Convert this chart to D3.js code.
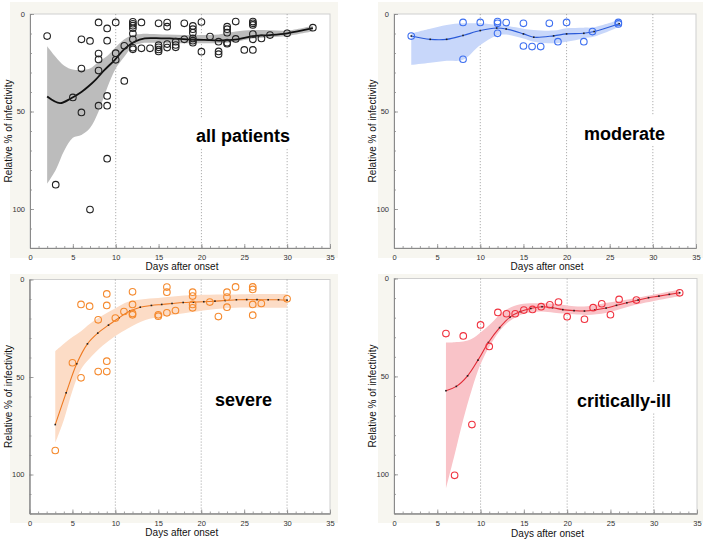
<!DOCTYPE html>
<html>
<head>
<meta charset="utf-8">
<script src="https://cdn.jsdelivr.net/npm/d3@7"></script>
<style>
  html, body { margin: 0; padding: 0; background: #ffffff; }
  svg { display: block; }
  text { font-family: "Liberation Sans", Arial, Helvetica, sans-serif; }
</style>
</head>
<body>
<svg id="chart" width="708" height="542"></svg>
<script>
// ---------- DATA ----------
const xTicks = [0, 5, 10, 15, 20, 25, 30, 35];
const yTicks = [0, 50, 100];
const gridDays = [10, 20, 30];
const panelLabels = ["all patients", "moderate", "severe", "critically-ill"];
const xTitle = "Days after onset";
const yTitle = "Relative % of infectivity";

// all patients
const allDays = [2,3,5,6,6,6,7,7,8,8,8,8,8,9,9,9,9,9,10,10,10,11,11,12,12,12,12,12,12,12,12,13,13,14,15,15,15,15,15,16,16,16,16,17,17,17,18,18,19,19,19,19,19,19,20,20,21,22,22,22,23,23,23,23,23,24,24,25,26,26,26,26,26,26,27,28,30,33];
const allVals = [11.3,87.5,42.8,13,28,50.5,100.3,13.8,4.3,20.3,23.3,29,47,7.4,13.7,42,47,74.2,4.3,20.1,23.5,16.3,34.3,4,5,6,7.3,10,13,17.3,18.1,4.3,17.6,17.6,4.8,16,17.1,18.2,19.2,4.4,6.5,15.4,17.2,14.2,15.9,17.1,4.8,13,6.1,7.8,9.6,12.5,13.7,14.7,4.1,19.3,11.6,14.2,19.2,20.6,6.5,7.8,9.6,14.7,15.2,3.9,12.8,18.4,3.9,4.8,5.6,10.3,13,18.4,12.5,10.8,9.9,7];
const allFitDays = [2,3.5,4.8,6,6.8,7.7,8.7,9.9,11,12.2,13.4,15.3,16.3,18.3,20.3,22.2,24.2,26.1,28,30,33];
const allFitMid  = [42.3,45.7,43.2,40,37.2,33.5,28.7,23.5,18,14.2,12.5,12.5,12.5,13,13.3,13.6,13,11.3,10.8,9.9,7.3];
const allBandDays = [2,3,4,5,6,7,8,9,10,11,12,13,14,16,18,20,22,24,26,28,30,33];
const allBandHi   = [16.5,22,26.5,28.5,28.7,28,24.5,21.5,17,13,10.8,10.2,10.2,10.5,10.8,10.8,10.5,9,8.2,8.3,8.5,6];
const allBandLo   = [87,80,70,63.5,62,58.5,50,38,28,21.9,16.5,15,14.8,15,15,15,15,14.2,12.5,12,11.3,8.9];

// moderate
const modDays = [2,8,8,10,12,12,12,13,15,15,16,17,18,19,20,22,23,26,26];
const modVals = [11.3,4.3,23.2,4.3,3.9,4.8,9.9,4.4,4.8,16.4,16.7,16.7,4.8,14.2,4.3,14.2,9,4.3,5.1];
const modFitDays = [2,4.2,6.1,8,10,11.9,13,15,16.2,18.5,20,22,23.2,26.1];
const modFitMid  = [11.3,13,13,11,8.5,7.2,7.7,10.2,11.9,11.2,10.2,9.9,9,5];
const modBandHi  = [9.9,7.5,5.6,4.8,4.8,5.6,6,7.5,8.2,8.5,7.3,7,6.8,3];
const modBandLo  = [26.1,25,24,23.5,15.9,11,10.5,12.5,14.2,15,14.2,12.5,11.6,6.5];

// severe
const sevDays = [3,5,6,6,7,8,8,9,9,9,9,10,11,12,12,12,12,15,15,16,16,16,17,19,19,19,19,21,22,23,23,23,24,26,26,26,26,27,30];
const sevVals = [87.7,42.7,12.8,50.4,13.7,20.7,47.2,7.4,13.3,41.9,47.2,19.8,16.4,6.3,12.8,17.4,18.1,18.1,18.8,3.9,6.5,17.1,15.9,6.5,8.5,12.8,14.5,11.6,19,6.5,9,14.2,3.8,3.8,5.1,12.8,18.3,12.3,9.9];
const sevFitDays = [3,4.27,5.5,6.75,7.95,9.2,10.4,11.7,12.9,14.2,15.4,16.6,17.9,19.1,20.3,21.6,22.8,24.1,25.3,26.5,27.8,29,30];
const sevFitMid  = [74.4,58.1,43.2,33,27.5,23.4,19.7,16.2,14.2,13.3,12.8,12.3,11.8,11.6,11.4,11.1,10.8,10.4,10.3,10.3,10.4,10.4,10.6];
const sevBandDays = [3,4,5,6,7,8.5,10,11.5,13.5,15.5,18,21,24,27.5,30];
const sevBandHi   = [36.8,33,29.5,26.5,22.8,18.5,14.8,11.4,10,9.2,8.2,7.8,7.7,7.4,7.4];
const sevBandLo   = [83.8,72,57,46,40.5,34,29,25,20.8,19,17.3,15.5,14.5,14.5,14.5];

// critically-ill
const crDays = [6,7,8,9,10,11,12,13,14,15,16,17,18,19,20,22,23,24,25,26,28,33];
const crVals = [28.1,100.5,29.3,74.6,23.7,34.7,17.3,18,18,16.1,15.8,14.4,13.4,12,19.5,20.8,14.9,12.9,18.5,10.7,11,7.3];
const crFitDays = [6,7.2,8.5,9.7,10.9,12.2,13.4,14.6,15.8,17.1,18.3,19.5,20.8,22,23.2,24.5,25.7,26.9,28.2,29.4,30.6,31.8,33];
const crFitMid  = [57.3,55.1,49.7,41.7,32.7,25.1,19.7,16.9,15.3,14.4,14.9,15.9,16.4,16.6,16.1,15.1,13.7,12.4,11,9.8,9,8.1,7.3];
const crBandDays = [6,7,8,9,10,11.2,12.7,14.6,16.9,18.5,20.8,22.3,24.6,28.1,33];
const crBandHi   = [32.7,32.5,32.2,30.8,27.6,23,16.6,13.2,12.7,12.9,14.2,14.2,12.4,9.8,5.6];
const crBandLo   = [107.3,90,72,56.5,43.7,33.4,24.2,18.6,16.9,17.5,18.3,18.6,17.5,13.2,9];

// ---------- LAYOUT ----------
const panels = [
  { left: 30, right: 330, top: 14, bottom: 248, bg: [10, 2, 338, 258], yTitleX: 8, xTitleY: 270,
    label: panelLabels[0], lx: 196, ly: 142,
    days: allDays, vals: allVals, fitDays: allFitDays, fitMid: allFitMid,
    bandDays: allBandDays, bandHi: allBandHi, bandLo: allBandLo,
    point: "#222222", band: "#bcbcbc", line: "#111111", lineW: 1.8, dots: false },
  { left: 394, right: 696, top: 14, bottom: 248, bg: [378, 2, 703, 258], yTitleX: 372, xTitleY: 270,
    label: panelLabels[1], lx: 584, ly: 140,
    days: modDays, vals: modVals, fitDays: modFitDays, fitMid: modFitMid,
    bandDays: modFitDays, bandHi: modBandHi, bandLo: modBandLo,
    point: "#3d6ff0", band: "#c8d7fa", line: "#2a5ad8", lineW: 1.1, dots: true },
  { left: 29.5, right: 330, top: 279.5, bottom: 513.5, bg: [10, 274, 338, 523], yTitleX: 8, xTitleY: 536,
    label: panelLabels[2], lx: 215, ly: 406,
    days: sevDays, vals: sevVals, fitDays: sevFitDays, fitMid: sevFitMid,
    bandDays: sevBandDays, bandHi: sevBandHi, bandLo: sevBandLo,
    point: "#f58a2e", band: "#fcdcc6", line: "#ee7a22", lineW: 1.1, dots: true },
  { left: 394, right: 697, top: 278.5, bottom: 513.5, bg: [378, 274, 703, 523], yTitleX: 372, xTitleY: 537,
    label: panelLabels[3], lx: 577, ly: 407,
    days: crDays, vals: crVals, fitDays: crFitDays, fitMid: crFitMid,
    bandDays: crBandDays, bandHi: crBandHi, bandLo: crBandLo,
    point: "#f0323f", band: "#f9c3c8", line: "#e02a35", lineW: 1.1, dots: true }
];

const svg = d3.select("#chart");

panels.forEach(p => {
  const g = svg.append("g");
  // beige backdrop
  g.append("rect").attr("x", p.bg[0]).attr("y", p.bg[1])
    .attr("width", p.bg[2] - p.bg[0]).attr("height", p.bg[3] - p.bg[1])
    .attr("fill", "#f7f6f0");
  // plot area
  g.append("rect").attr("x", p.left).attr("y", p.top)
    .attr("width", p.right - p.left).attr("height", p.bottom - p.top)
    .attr("fill", "#ffffff").attr("stroke", "#cfcfcf").attr("stroke-width", 1);

  const x = d3.scaleLinear().domain([0, 35]).range([p.left, p.right]);
  const y = d3.scaleLinear().domain([0, 120]).range([p.top, p.bottom]);

  // dotted gridlines
  g.selectAll(".grid").data(gridDays).enter().append("line")
    .attr("x1", d => x(d)).attr("x2", d => x(d))
    .attr("y1", p.top).attr("y2", p.bottom)
    .attr("stroke", "#9a9a9a").attr("stroke-width", 0.8)
    .attr("stroke-dasharray", "1.2,1.8");

  // band
  const bandData = p.bandDays.map((d, i) => ({ d, hi: p.bandHi[i], lo: p.bandLo[i] }));
  g.append("path").datum(bandData)
    .attr("d", d3.area().curve(d3.curveCatmullRom.alpha(0.5))
      .x(v => x(v.d)).y0(v => y(v.lo)).y1(v => y(v.hi)))
    .attr("fill", p.band).attr("stroke", "none");

  // label with white background (cuts gridlines)
  const lab = g.append("text").attr("x", p.lx).attr("y", p.ly)
    .attr("font-size", 18).attr("font-weight", "bold").attr("fill", "#000")
    .text(p.label);
  const bb = lab.node().getBBox();
  g.insert("rect", "text").attr("x", bb.x - 4).attr("y", p.ly - 24)
    .attr("width", bb.width + 8).attr("height", 30).attr("fill", "#ffffff");

  // fit line
  const fit = p.fitDays.map((d, i) => ({ d, v: p.fitMid[i] }));
  g.append("path").datum(fit)
    .attr("d", d3.line().curve(d3.curveCatmullRom.alpha(0.5)).x(v => x(v.d)).y(v => y(v.v)))
    .attr("fill", "none").attr("stroke", p.line).attr("stroke-width", p.lineW);
  if (p.dots) {
    g.selectAll(".fd").data(fit).enter().append("rect")
      .attr("x", v => x(v.d) - 0.8).attr("y", v => y(v.v) - 0.8)
      .attr("width", 1.6).attr("height", 1.6).attr("fill", "#222");
  }

  // points
  g.selectAll(".pt").data(p.days.map((d, i) => ({ d, v: p.vals[i] }))).enter()
    .append("circle")
    .attr("cx", v => x(v.d)).attr("cy", v => y(v.v)).attr("r", 3.3)
    .attr("fill", "none").attr("stroke", p.point).attr("stroke-width", 1.1);

  // axes (ticks inward)
  const xMinor = g.append("g").attr("transform", `translate(0,${p.bottom})`)
    .call(d3.axisBottom(x).tickValues(d3.range(0, 36, 1)).tickSize(-2).tickSizeOuter(0).tickFormat(""));
  const xMajor = g.append("g").attr("transform", `translate(0,${p.bottom})`)
    .call(d3.axisBottom(x).tickValues(xTicks).tickSize(-4).tickSizeOuter(0).tickPadding(7));
  const yMinor = g.append("g").attr("transform", `translate(${p.left},0)`)
    .call(d3.axisLeft(y).tickValues(d3.range(0, 121, 10)).tickSize(-2).tickSizeOuter(0).tickFormat(""));
  const yMajor = g.append("g").attr("transform", `translate(${p.left},0)`)
    .call(d3.axisLeft(y).tickValues(yTicks).tickSize(-4).tickSizeOuter(0).tickPadding(5));
  [xMinor, xMajor, yMinor, yMajor].forEach(a => {
    a.select(".domain").attr("stroke", "#8a8a8a").attr("stroke-width", 1);
    a.selectAll(".tick line").attr("stroke", "#8a8a8a").attr("stroke-width", 0.8);
    a.selectAll("text").attr("font-size", 7.5).attr("fill", "#333")
      .attr("font-family", "'Liberation Sans', Arial, sans-serif");
  });

  // axis titles
  g.append("text").attr("x", (p.left + p.right) / 2 + 2).attr("y", p.xTitleY)
    .attr("text-anchor", "middle").attr("font-size", 10).attr("fill", "#111")
    .text(xTitle);
  g.append("text")
    .attr("transform", `translate(${p.yTitleX + 3.5},${(p.top + p.bottom) / 2}) rotate(-90)`)
    .attr("text-anchor", "middle").attr("font-size", 10).attr("fill", "#111")
    .text(yTitle);
});
</script>
</body>
</html>
